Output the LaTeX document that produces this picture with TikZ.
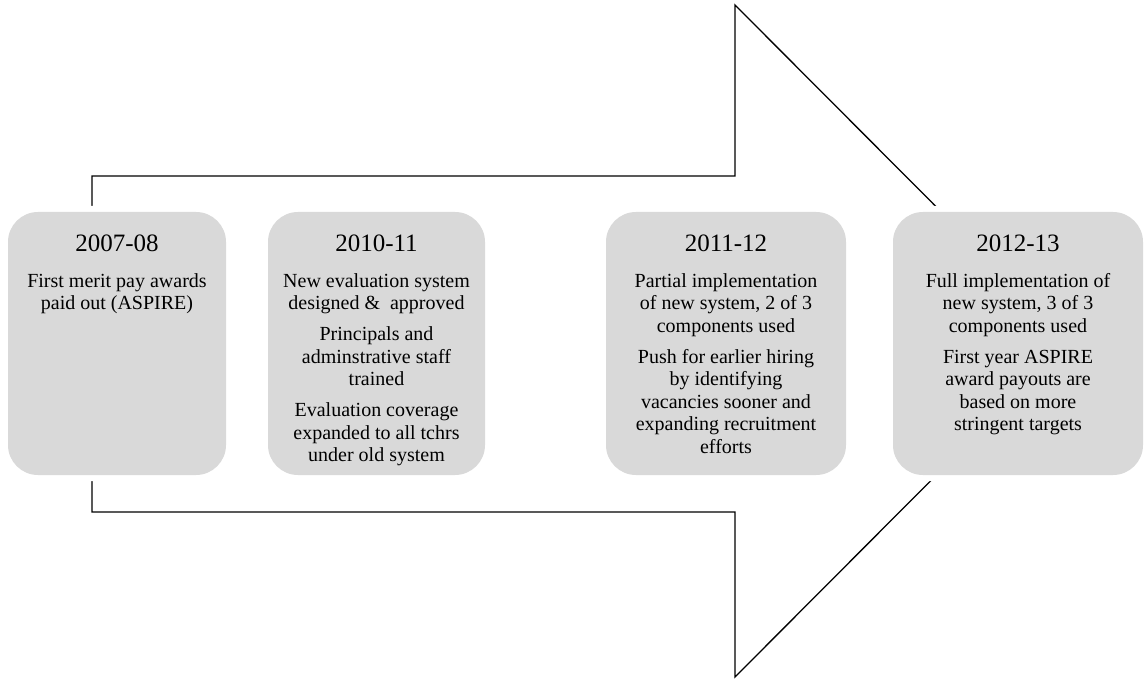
\documentclass[tikz,border=0pt]{standalone}
\usepackage{fontspec}
\setmainfont{Liberation Serif}
\usetikzlibrary{positioning}
\definecolor{boxgray}{RGB}{217,217,217}
\tikzset{
  period/.style={preaction={draw=white,line width=12pt},fill=boxgray,
    rounded corners=30pt,minimum height=263pt,inner sep=0pt},
  year/.style={font=\fontsize{25}{28}\selectfont,inner sep=0pt},
  note/.style={font=\fontsize{20}{22.5}\selectfont,align=center,inner sep=0pt}
}
\begin{document}
\begin{tikzpicture}[x=1pt,y=-1pt]
    \useasboundingbox (0,0) rectangle (1144,679);
    % Big outlined arrow behind the boxes
    \draw[line width=1.3pt] (92,176) -- (735,176) -- (735,5) -- (1070,341)
        -- (735,677) -- (735,512) -- (92,512) -- cycle;

    % Grey period boxes
    \node[period,minimum width=218pt] (b1) at (117,343.5) {};
    \node[period,minimum width=217pt] (b2) at (376.5,343.5) {};
    \node[period,minimum width=240pt] (b3) at (726,343.5) {};
    \node[period,minimum width=250pt] (b4) at (1018,343.5) {};

    % Years
    \node[year,below=23pt of b1.north] (y1) {2007-08};
    \node[year,below=23pt of b2.north] (y2) {2010-11};
    \node[year,below=23pt of b3.north] (y3) {2011-12};
    \node[year,below=23pt of b4.north] (y4) {2012-13};

    % What happened in each period
    \node[note,below=21pt of y1] (t1) {First merit pay awards\\
        paid out (ASPIRE)};
    \node[note,below=21pt of y2] (t2) {New evaluation system\\
        designed \&~ approved\\[8.5pt]
        Principals and\\ adminstrative staff\\ trained\\[8.5pt]
        Evaluation coverage\\ expanded to all tchrs\\ under old system};
    \node[note,below=21pt of y3] (t3) {Partial implementation\\
        of new system, 2 of 3\\ components used\\[8.5pt]
        Push for earlier hiring\\ by identifying\\ vacancies sooner and\\
        expanding recruitment\\ efforts};
    \node[note,below=21pt of y4] (t4) {Full implementation of\\
        new system, 3 of 3\\ components used\\[8.5pt]
        First year ASPIRE\\ award payouts are\\ based on more\\
        stringent targets};
\end{tikzpicture}
\end{document}
